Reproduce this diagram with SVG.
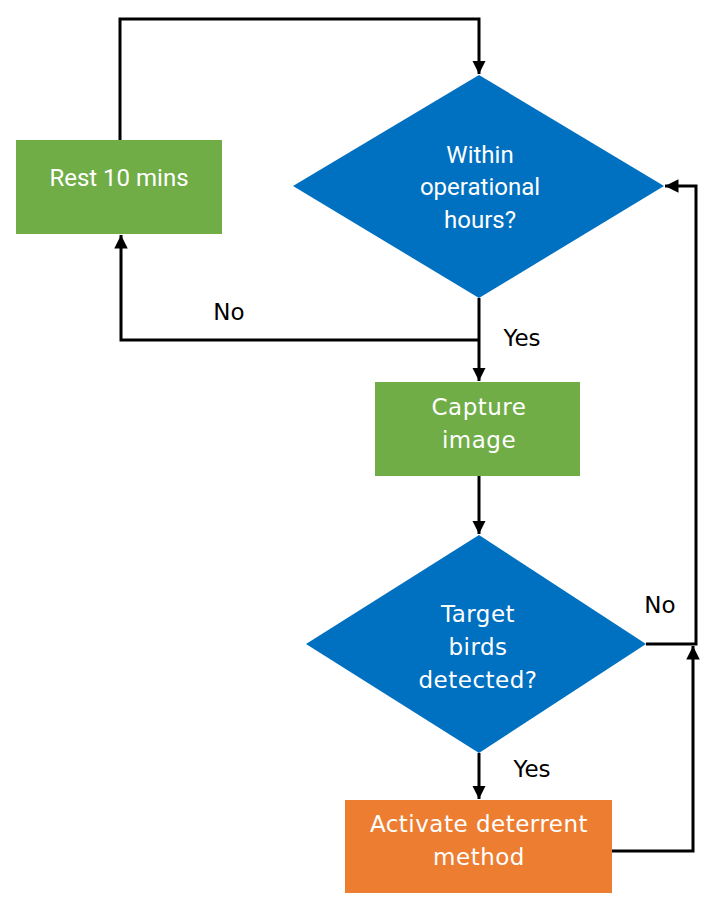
<svg xmlns="http://www.w3.org/2000/svg" width="722" height="908" viewBox="0 0 722 908">
<defs>
<style>
.box{stroke:none}
.green{fill:#70AD47}
.blue{fill:#0070C0}
.orange{fill:#ED7D31}
.t{font-family:"DejaVu Sans","Liberation Sans",sans-serif;font-size:23px;letter-spacing:0.5px;fill:#ffffff;text-anchor:middle}
.tn{font-family:Roboto,"Liberation Sans",sans-serif;font-size:24px;fill:#ffffff;text-anchor:middle}
.lbl{font-family:"DejaVu Sans","Liberation Sans",sans-serif;font-size:23px;fill:#000000;text-anchor:middle}
.c{fill:none;stroke:#000000;stroke-width:3}
</style>
<marker id="ah" viewBox="0 0 10 10" refX="10" refY="5" markerWidth="4.5" markerHeight="4.5" markerUnits="strokeWidth" orient="auto">
<path d="M0,0 L10,5 L0,10 z" fill="#000000"/>
</marker>
</defs>
<g id="connectors">
<path class="c" d="M120,140 V19 H479 V74" marker-end="url(#ah)"/>
<path class="c" d="M479,298 V381" marker-end="url(#ah)"/>
<path class="c" d="M479,340 H121 V235" marker-end="url(#ah)"/>
<path class="c" d="M479,476 V534" marker-end="url(#ah)"/>
<path class="c" d="M479,753 V799" marker-end="url(#ah)"/>
<path class="c" d="M646,644 H696 V186 H665" marker-end="url(#ah)"/>
<path class="c" d="M612,851 H693 V646" marker-end="url(#ah)"/>
<text class="lbl" x="229" y="320">No</text>
<text class="lbl" x="522" y="346">Yes</text>
<text class="lbl" x="660" y="613">No</text>
<text class="lbl" x="532" y="777">Yes</text>
</g>
<g id="rest">
<rect class="box green" x="16" y="140" width="206" height="94"/>
<text class="tn" x="119" y="186">Rest 10 mins</text>
</g>
<g id="hours">
<polygon class="box blue" points="479,75 664,186 479,298 293,186"/>
<text class="tn" x="480" y="163">Within</text>
<text class="tn" x="480" y="195">operational</text>
<text class="tn" x="480" y="228">hours?</text>
</g>
<g id="capture">
<rect class="box green" x="375" y="382" width="205" height="94"/>
<text class="t" x="479" y="415">Capture</text>
<text class="t" x="479" y="448">image</text>
</g>
<g id="detect">
<polygon class="box blue" points="479,535 646,644 479,753 306,644"/>
<text class="t" x="478" y="622">Target</text>
<text class="t" x="478" y="655">birds</text>
<text class="t" x="478" y="688">detected?</text>
</g>
<g id="activate">
<rect class="box orange" x="345" y="800" width="267" height="93"/>
<text class="t" x="479" y="832">Activate deterrent</text>
<text class="t" x="479" y="865">method</text>
</g>
</svg>
